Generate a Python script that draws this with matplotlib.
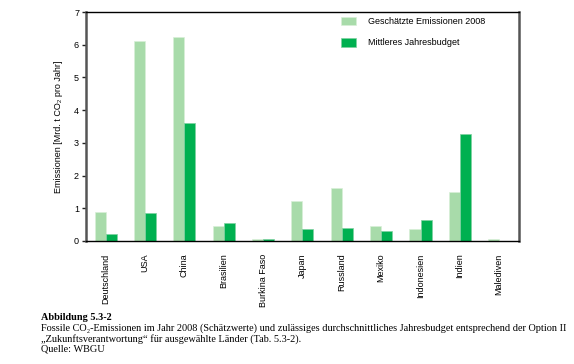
import numpy as np
import matplotlib
matplotlib.use('Agg')
import matplotlib.pyplot as plt

laender = ['Deutschland', 'USA', 'China', 'Brasilien', 'Burkina Faso', 'Japan',
           'Russland', 'Mexiko', 'Indonesien', 'Indien', 'Malediven']
emissionen_2008 = [0.89, 6.10, 6.23, 0.46, 0.06, 1.21, 1.62, 0.46, 0.36, 1.50, 0.05]
jahresbudget = [0.22, 0.84, 3.61, 0.55, 0.06, 0.36, 0.39, 0.31, 0.64, 3.26, 0.01]

hell = '#a8dbaa'
dunkel = '#00b050'
sans = ['Liberation Sans', 'DejaVu Sans']
serif = ['Liberation Serif', 'DejaVu Serif']

fig = plt.figure(figsize=(5.74, 3.64), dpi=100)
ax = fig.add_axes([0.1498, 0.338, 0.7542, 0.629])

x = np.arange(len(laender))
w = 0.28
ax.bar(x - w / 2, emissionen_2008, w, color=hell, edgecolor='#d8efd8', linewidth=0.5,
       label='Geschätzte Emissionen 2008')
ax.bar(x + w / 2, jahresbudget, w, color=dunkel, edgecolor='#7fd0a0', linewidth=0.5,
       label='Mittleres Jahresbudget')

ax.set_xlim(-0.5, len(laender) - 0.5)
ax.set_ylim(0, 7)
ax.set_yticks(range(8))
ax.set_xticks(x)
ax.set_xticklabels(laender, rotation=90, fontsize=6.5, family=sans)
ax.tick_params(axis='x', length=0, pad=9)
ax.tick_params(axis='y', length=3, width=1, labelsize=6.5, pad=2, color='#222222')
for lab in ax.get_yticklabels():
    lab.set_family(sans)

ax.spines['left'].set_linewidth(1.8)
ax.spines['left'].set_color('#555555')
ax.spines['right'].set_linewidth(1.8)
ax.spines['right'].set_color('#555555')
ax.spines['top'].set_linewidth(1)
ax.spines['bottom'].set_linewidth(1)

ax.set_ylabel('Emissionen [Mrd. t CO₂ pro Jahr]', fontsize=6.5,
              family=sans, labelpad=8)

ax.legend(loc='upper right', bbox_to_anchor=(0.94, 1.015), frameon=False,
          prop={'family': sans, 'size': 6.5},
          handlelength=1.6, handleheight=1.1, handletextpad=1.3, labelspacing=1.3)

fig.text(0.0715, 0.128, 'Abbildung 5.3-2', fontsize=7.4, weight='bold',
         family=serif, va='center')
fig.text(0.0715, 0.098,
         'Fossile CO₂-Emissionen im Jahr 2008 (Schätzwerte) und zulässiges '
         'durchschnittliches Jahresbudget entsprechend der Option II',
         fontsize=7.4, family=serif, va='center')
fig.text(0.0715, 0.069,
         '„Zukunftsverantwortung“ für ausgewählte Länder (Tab. 5.3-2).',
         fontsize=7.4, family=serif, va='center')
fig.text(0.0715, 0.040, 'Quelle: WBGU', fontsize=7.4, family=serif,
         va='center')

fig.savefig('out.png', dpi=100)
